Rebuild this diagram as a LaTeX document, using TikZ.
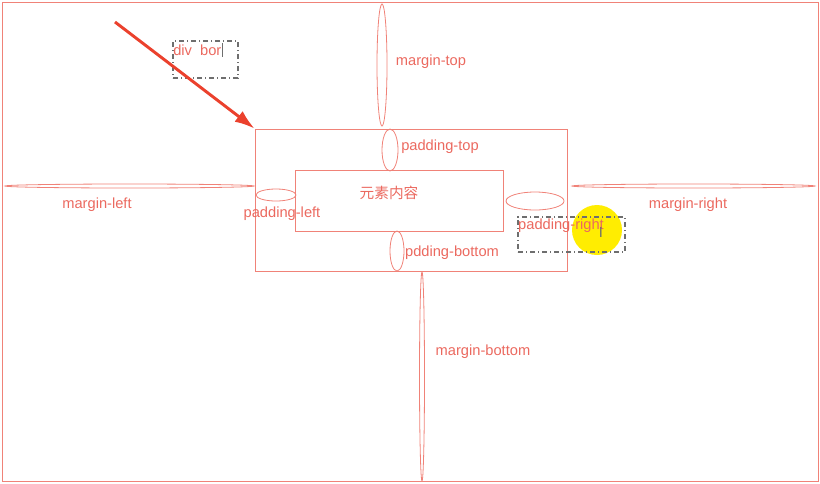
\documentclass[tikz,border=0pt]{standalone}
\usepackage{fontspec}
\setmainfont{Liberation Sans}
\newfontfamily\cjk{Noto Sans CJK SC}
\usetikzlibrary{arrows.meta}
\definecolor{boxred}{RGB}{240,130,120}
\definecolor{txtred}{RGB}{235,105,95}
\definecolor{arrowred}{RGB}{235,65,45}
\definecolor{cursorgray}{RGB}{110,110,110}
\begin{document}
\begin{tikzpicture}[x=0.75pt,y=-0.75pt,
    every node/.style = {inner sep=0pt, font=\fontsize{11}{13}\selectfont},
    box/.style={draw=boxred, line width=0.6pt},
    ell/.style={draw=boxred, line width=0.6pt},
    lbl/.style={text=txtred},
    dashbox/.style={draw=cursorgray, line width=0.9pt,
      dash pattern=on 4pt off 2pt on 1pt off 2pt}]
    \useasboundingbox (0,0) rectangle (820,483);
    % page frame
    \node[box, minimum width=612pt, minimum height=359.25pt] (page) at (410,241.5) {};
    % border and content
    \node[box, minimum width=234pt, minimum height=106.5pt] (border) at (411,200) {};
    \node[box, minimum width=156pt, minimum height=45.75pt] (content) at (399,200.5) {};
    \node[lbl] (elem) at (389,193) {\cjk 元素内容};
    % margins
    \draw[ell] (382,65) ellipse [x radius=5, y radius=61];
    \node[lbl] (mtop) at (431,62) {margin-top};
    \draw[ell] (129.5,186) ellipse [x radius=124.5, y radius=2];
    \node[lbl] (mleft) at (97,205) {margin-left};
    \draw[ell] (693.5,186) ellipse [x radius=121.5, y radius=2];
    \node[lbl] (mright) at (688,205) {margin-right};
    \draw[ell] (422,376.5) ellipse [x radius=2.5, y radius=104.5];
    \node[lbl] (mbottom) at (483,352) {margin-bottom};
    % paddings
    \draw[ell] (390,150) ellipse [x radius=8, y radius=21];
    \node[lbl] (ptop) at (440,147) {padding-top};
    \draw[ell] (276,195) ellipse [x radius=20, y radius=6];
    \node[lbl] (pleft) at (282,214) {padding-left};
    \draw[ell] (397,251) ellipse [x radius=7, y radius=20];
    \node[lbl] (pbottom) at (452,253) {pdding-bottom};
    % highlight and selection boxes
    \fill[yellow!95!orange] (597,230) circle [radius=25];
    \draw[ell] (535,201) ellipse [x radius=29, y radius=9];
    \node[dashbox, minimum width=80.25pt, minimum height=26.25pt] (pselect) at (571.5,234.5) {};
    \node[lbl] (pright) at (561,226) {padding-right};
    \node[text=cursorgray, font=\fontsize{11}{12}\selectfont] (cursor) at (601,232) {I};
    \node[dashbox, minimum width=48.75pt, minimum height=27.75pt] (divbox) at (205.5,59.5) {};
    \node[lbl, anchor=west] (divtxt) at (173,50) {div\ \ bor};
    \draw[cursorgray, line width=0.7pt] (divtxt.east) ++(1,-7) -- ++(0,14);
    % pointer
    \coordinate (tail) at (115,22);
    \draw[arrowred, line width=2.2pt, -{Latex[length=15pt,width=10pt]}] (tail) -- (border.north west);
\end{tikzpicture}
\end{document}
